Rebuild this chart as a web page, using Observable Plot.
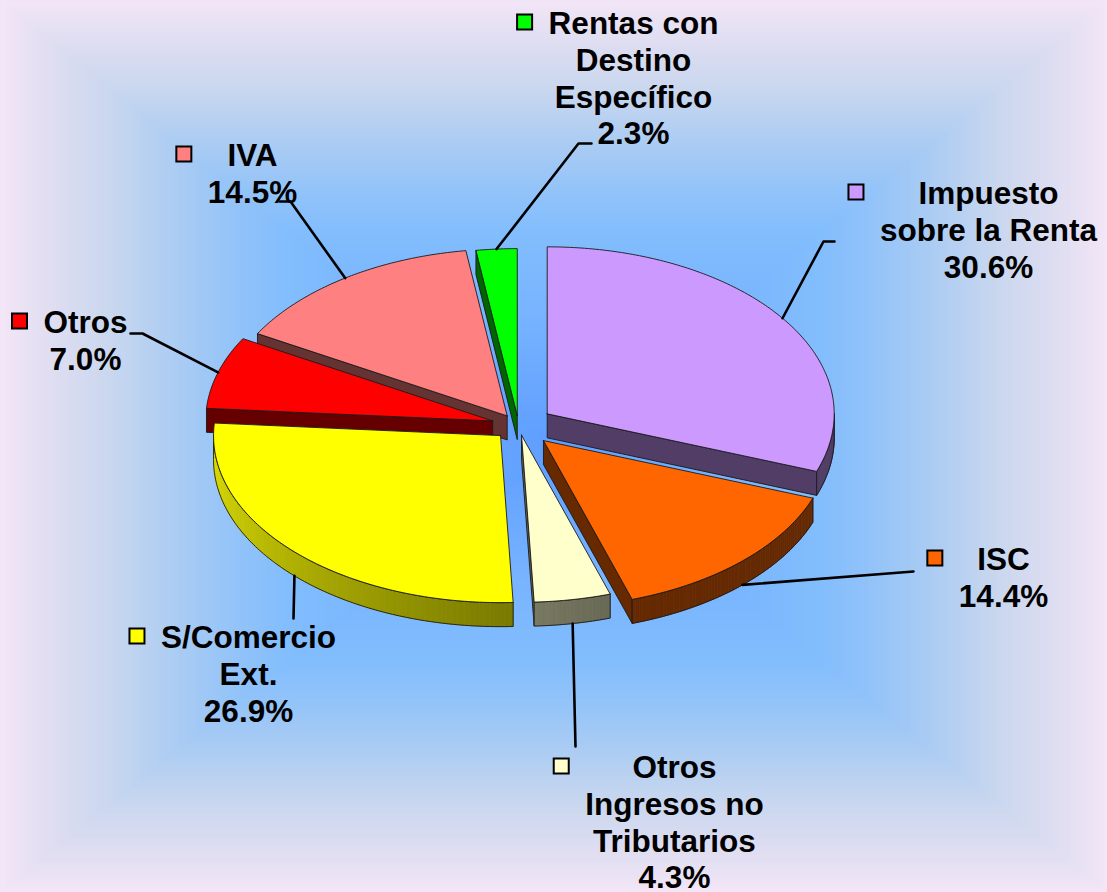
<!DOCTYPE html>
<html>
<head>
<meta charset="utf-8">
<script src="https://cdn.jsdelivr.net/npm/d3@7"></script>
<script src="https://cdn.jsdelivr.net/npm/@observablehq/plot@0.6"></script>
<style>
  html, body { margin: 0; padding: 0; background: #EEE4F5; }
  #chart svg { display: block; }
</style>
</head>
<body>
<div id="chart"></div>
<script>
// ---------------- data ----------------
const categories = [
  "Impuesto sobre la Renta", "ISC", "Otros Ingresos no Tributarios",
  "S/Comercio Ext.", "Otros", "IVA", "Rentas con Destino Específico"
];
const shares = [30.6, 14.4, 4.3, 26.9, 7.0, 14.5, 2.3];
const labelLines = [
  ["Impuesto", "sobre la Renta"],
  ["ISC"],
  ["Otros", "Ingresos no", "Tributarios"],
  ["S/Comercio", "Ext."],
  ["Otros"],
  ["IVA"],
  ["Rentas con", "Destino", "Específico"]
];
const sliceColors = ["#CC99FF", "#FF6600", "#FFFFCC", "#FFFF00", "#FF0000", "#FF8080", "#00FF00"];

// ---------------- layout ----------------
const W = 1107, H = 892;
const pieGeom = {cx: 518, cy: 425, rx: 287, ry: 167, depth: 24};
const explode = [35, 36, 17, 25, 27, 20, 17];
const labelLayout = [
  {x: 988, y: 183, leader: [[823, 241], [834, 241]]},
  {x: 1003, y: 549, leader: [[913, 571]]},
  {x: 674, y: 757, leader: [[575, 746]]},
  {x: 248, y: 627, leader: [[293, 618]]},
  {x: 85, y: 312, leader: [[142, 333], [130, 333]]},
  {x: 252, y: 145, leader: [[290, 201], [279, 201]]},
  {x: 633, y: 13, leader: [[578, 143], [591, 143]]}
];
const FONT = "'Liberation Sans', Arial, Helvetica, sans-serif";
const FONT_SIZE = 31.5;
const bgStops = [0, 0.1, 0.2, 0.32, 0.43, 0.52, 0.7, 0.9, 1];
const bgColors = ["#F3E6F7", "#DEDDF1", "#C9D7EF", "#ABCCF3", "#92C3F9", "#82BDFD", "#78B4FF", "#66A4FF", "#5E9EFF"];

// ---------------- geometry ----------------
const deg = Math.PI / 180;
const {cx, cy, rx, ry, depth} = pieGeom;
const arcs = d3.pie().sort(null).value(d => d)(shares);

function shade(color, f) {
  const c = d3.rgb(color);
  return d3.rgb(c.r * f, c.g * f, c.b * f).formatHex();
}
function rimFactor(a) {
  const d = a / deg;
  if (d <= 160) return 0.4;
  return 0.4 + 0.48 * Math.min(1, (d - 160) / 110);
}
function pt(a, ox, oy, dz = 0) {
  return [ox + rx * Math.sin(a), oy - ry * Math.cos(a) + dz];
}
function arcPts(a0, a1, ox, oy, dz = 0) {
  const n = Math.max(2, Math.ceil((a1 - a0) / (0.75 * deg)) + 1);
  return d3.range(n).map(k => pt(a0 + (a1 - a0) * k / (n - 1), ox, oy, dz));
}

const faces = [];
const slices = arcs.map((arc, i) => {
  const a0 = arc.startAngle, a1 = arc.endAngle, mid = (a0 + a1) / 2;
  const ox = cx + explode[i] * Math.sin(mid);
  const oy = cy - explode[i] * Math.cos(mid) * ry / rx;
  return {i, a0, a1, mid, ox, oy, color: sliceColors[i]};
});

const OUT = "#1a1a1a";
slices.forEach(s => {
  const {i, a0, a1, ox, oy, color} = s;
  // top face
  faces.push({layer: 1, key: 0, sub: 0,
    pts: [[ox, oy], ...arcPts(a0, a1, ox, oy), [ox, oy]],
    fill: color, stroke: OUT, sw: 0.9});
  // radial faces
  [[a0, a0 - Math.PI / 2], [a1, a1 + Math.PI / 2]].forEach(([a, n]) => {
    if (-Math.cos(n) > 0.02) {
      const p = pt(a, ox, oy), q = pt(a, ox, oy, depth);
      const pts = [[ox, oy], p, q, [ox, oy + depth], [ox, oy]];
      faces.push({layer: 0, key: d3.mean(pts, d => d[1]), sub: 0,
        pts, fill: shade(color, 0.4), stroke: OUT, sw: 0.9});
    }
  });
  // outer rim (front-facing part)
  const r0 = Math.max(a0, Math.PI / 2), r1 = Math.min(a1, 3 * Math.PI / 2);
  if (r1 > r0) {
    const top = arcPts(r0, r1, ox, oy);
    const bot = arcPts(r0, r1, ox, oy, depth);
    const key = d3.mean(top, d => d[1]) + depth / 2;
    for (let k = 0; k < top.length - 1; k++) {
      const am = r0 + (r1 - r0) * (k + 0.5) / (top.length - 1);
      const c = shade(color, rimFactor(am));
      faces.push({layer: 0, key, sub: 1,
        pts: [top[k], top[k + 1], bot[k + 1], bot[k], top[k]],
        fill: c, stroke: c, sw: 0.7});
    }
    faces.push({layer: 0, key, sub: 2,
      pts: [...top, ...bot.slice().reverse(), top[0]],
      fill: "none", stroke: OUT, sw: 0.9});
  }
});
faces.sort((a, b) => (a.layer - b.layer) || (a.key - b.key) || (a.sub - b.sub));
const sideRows = [], topRows = [];
faces.forEach((f, fi) => {
  const target = f.layer === 0 ? sideRows : topRows;
  f.pts.forEach(p => target.push({f: fi, x: p[0], y: p[1], fill: f.fill, stroke: f.stroke, sw: f.sw}));
});

// ---------------- labels ----------------
const ctx = document.createElement("canvas").getContext("2d");
ctx.font = `bold ${FONT_SIZE}px ${FONT}`;
const labels = categories.map((c, i) => {
  const lines = [...labelLines[i], shares[i].toFixed(1) + "%"];
  const w = d3.max(lines, l => ctx.measureText(l).width);
  const L = labelLayout[i];
  return {text: lines.join("\n"), x: L.x, y: L.y, color: sliceColors[i],
          kx1: L.x - w / 2 - 31, kx2: L.x - w / 2 - 16, ky1: L.y + 1.5, ky2: L.y + 16.5};
});
const leaderRows = [];
slices.forEach(s => {
  const front = s.mid > Math.PI / 2 && s.mid < 3 * Math.PI / 2;
  const start = pt(s.mid, s.ox, s.oy, front ? depth : 0);
  [start, ...labelLayout[s.i].leader].forEach(p => leaderRows.push({id: s.i, x: p[0], y: p[1]}));
});

// ---------------- background ----------------
const bgScale = d3.scaleLinear().domain(bgStops).range(bgColors).interpolate(d3.interpolateRgb).clamp(true);
const bcx = W / 2, bcy = H / 2;
function bgFill(x, y) {
  const t = 1 - Math.max(Math.abs(x - bcx) / bcx, Math.abs(y - bcy) / bcy);
  return bgScale(t);
}

const chart = Plot.plot({
  width: W, height: H, margin: 0,
  x: {domain: [0, W], range: [0, W], axis: null},
  y: {domain: [0, H], range: [0, H], axis: null},
  color: {type: "identity"},
  style: {background: "transparent", overflow: "visible"},
  marks: [
    Plot.raster({x1: 0, y1: 0, x2: W, y2: H, pixelSize: 2, fill: bgFill}),
    Plot.line(sideRows, {x: "x", y: "y", z: "f", fill: "fill", stroke: "stroke", strokeWidth: "sw", strokeLinejoin: "round", curve: "linear"}),
    Plot.line(topRows, {x: "x", y: "y", z: "f", fill: "fill", stroke: "stroke", strokeWidth: "sw", strokeLinejoin: "round", curve: "linear"}),
    Plot.line(leaderRows, {x: "x", y: "y", z: "id", stroke: "#000", strokeWidth: 2.6, curve: "linear"}),
    Plot.rect(labels, {x1: "kx1", x2: "kx2", y1: "ky1", y2: "ky2", fill: "color", stroke: "#000", strokeWidth: 2}),
    Plot.text(labels, {x: "x", y: "y", dy: -5, text: "text", textAnchor: "middle", lineAnchor: "top",
      lineHeight: 1.16, fontSize: FONT_SIZE, fontWeight: "bold", fontFamily: FONT, fill: "#000"})
  ]
});
document.getElementById("chart").appendChild(chart);
</script>
</body>
</html>
